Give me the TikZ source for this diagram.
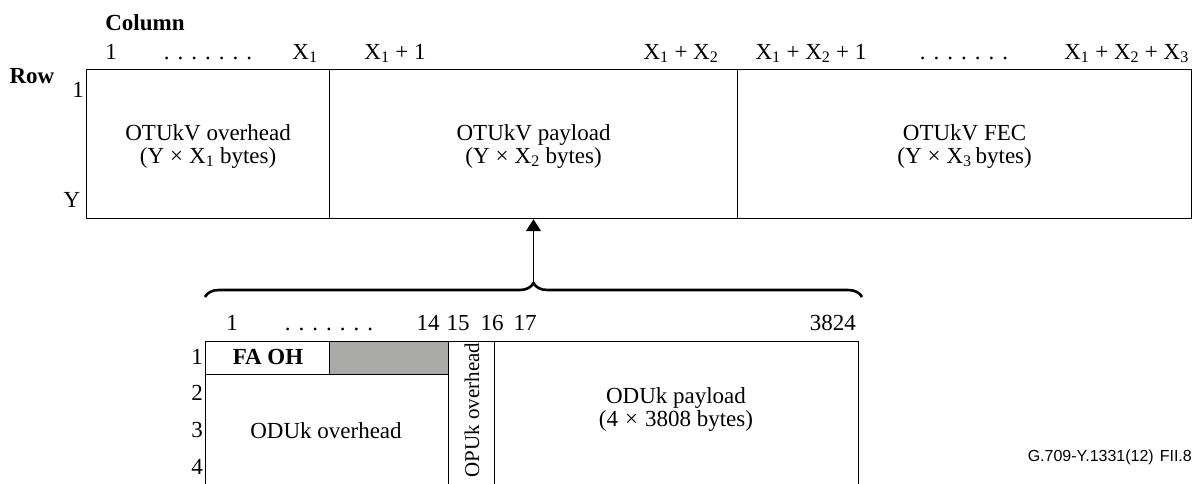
\documentclass[tikz,border=0pt]{standalone}
\usepackage{fontspec}
\setmainfont{Liberation Serif}
\newfontfamily\idfont{Liberation Sans}
\usetikzlibrary{arrows.meta,decorations.pathreplacing}
\definecolor{shade}{RGB}{170,170,168}
\newcommand\sevendots{.\hspace{8pt}.\hspace{8pt}.\hspace{8pt}.\hspace{8pt}.\hspace{8pt}.\hspace{8pt}.}
\newcommand\Xs[1]{X\textsubscript{#1}}
\newcommand\tms[1]{\hspace{#1}×\hspace{#1}}
\begin{document}
\begin{tikzpicture}[x=1pt,y=-1pt,
  font=\fontsize{23}{23}\selectfont,
  cell/.style={draw,line width=1.2pt,inner sep=0pt,anchor=north west},
  lab/.style={anchor=base,inner sep=0pt},
  txt/.style={align=center,inner sep=0pt}]
\useasboundingbox (0,0) rectangle (1195,483);
\clip (0,0) rectangle (1195,483);
% top frame
\node[cell,minimum width=243pt,minimum height=149pt] (toh) at (86,69) {};
\node[cell,minimum width=408pt,minimum height=149pt] (tpay) at (329,69) {};
\node[cell,minimum width=454pt,minimum height=149pt] (tfec) at (737,69) {};
\node[txt] (tohT) at ([yshift=-2pt]toh.center) {OTUkV overhead\\(Y\tms{6pt}\Xs{1} bytes)};
\node[txt] (tpayT) at ([yshift=-2pt]tpay.center) {OTUkV payload\\(Y\tms{6pt}\Xs{2} bytes)};
\node[txt] (tfecT) at ([yshift=-2pt]tfec.center) {OTUkV FEC\\(Y\tms{6pt}\Xs{3}\,bytes)};
% top labels
\node[lab,font=\fontsize{23}{23}\selectfont\bfseries] (col) at (145,30) {Column};
\node[lab,font=\fontsize{23}{23}\selectfont\bfseries] (row) at (32,83) {Row};
\node[lab] (c1) at (111,59) {1};
\node[lab] (cd1) at (208,59) {\sevendots};
\node[lab] (cx1) at (305,59) {\Xs{1}};
\node[lab] (cx1p) at (395,59) {\Xs{1} + 1};
\node[lab] (cx12) at (681,59) {\Xs{1} + \Xs{2}};
\node[lab] (cx12p) at (811,59) {\Xs{1} + \Xs{2} + 1};
\node[lab] (cd2) at (964,59) {\sevendots};
\node[lab,anchor=base east] (cx123) at (1189,59) {\Xs{1} + \Xs{2} + \Xs{3}};
\node[lab] (r1) at (78,97) {1};
\node[lab] (rY) at (72,207) {Y};
% brace and arrow
\draw[line width=2.6pt,decorate,decoration={brace,amplitude=14pt}] (205,297) -- (862,297);
\coordinate (tip) at (533.5,284);
\draw[line width=1.3pt,-{Triangle[length=12pt,width=15pt]}] (tip) -- (tip |- tpay.south);
% lower frame
\node[cell,minimum width=124pt,minimum height=33pt] (fa) at (205,341) {};
\node[cell,minimum width=119pt,minimum height=33pt,fill=shade] (gr) at (329,341) {};
\node[cell,minimum width=243pt,minimum height=160pt] (odoh) at (205,374) {};
\node[cell,minimum width=46pt,minimum height=193pt] (opu) at (448,341) {};
\node[cell,minimum width=364pt,minimum height=193pt] (opay) at (494,341) {};
\node[lab,font=\fontsize{23}{23}\selectfont\bfseries] (faT) at (268,364) {FA OH};
\node[lab] (odohT) at (326,438) {ODUk overhead};
\node[txt,rotate=90,font=\fontsize{21}{21}\selectfont] (opuT) at (472,410) {OPUk overhead};
\node[txt] (opayT) at (676,409) {ODUk payload\\(4\tms{7pt}3808 bytes)};
% lower labels
\node[lab] (b1) at (232,330) {1};
\node[lab] (bd) at (329,330) {\sevendots};
\node[lab] (b14) at (428,330) {14};
\node[lab] (b15) at (458,330) {15};
\node[lab] (b16) at (492,330) {16};
\node[lab] (b17) at (525,330) {17};
\node[lab,anchor=base east] (b3824) at (856,330) {3824};
\node[lab] (l1) at (197,364) {1};
\node[lab] (l2) at (197,400) {2};
\node[lab] (l3) at (197,437) {3};
\node[lab] (l4) at (197,474) {4};
% figure id
\node[lab,anchor=base east,font=\idfont\fontsize{16}{18}\selectfont] (fid) at (1192,461) {G.709-Y.1331(12)\hspace{6pt}FII.8};
\end{tikzpicture}
\end{document}
